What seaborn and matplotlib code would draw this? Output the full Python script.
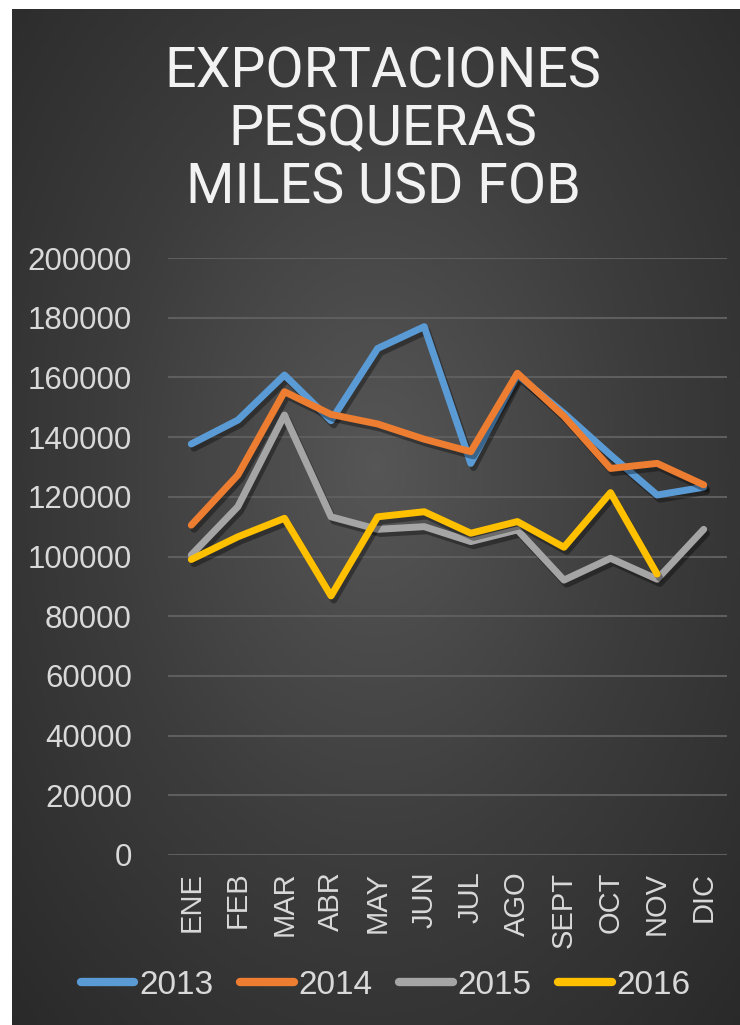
import numpy as np
import pandas as pd
import matplotlib
matplotlib.use("Agg")
import matplotlib.pyplot as plt
import matplotlib.patheffects as pe
from matplotlib.colors import LinearSegmentedColormap
import seaborn as sns

# data (miles USD FOB)
meses = ["ENE", "FEB", "MAR", "ABR", "MAY", "JUN", "JUL", "AGO", "SEPT", "OCT", "NOV", "DIC"]
v2013 = [137700, 145700, 160800, 145500, 169700, 177000, 131200, 160800, 148000, 134000, 120600, 123200]
v2014 = [110500, 127300, 155200, 147600, 144400, 139300, 135100, 161400, 147000, 129500, 131200, 124000]
v2015 = [100500, 116700, 147400, 113300, 109100, 110000, 105000, 108900, 92100, 99400, 92400, 109100]
v2016 = [99000, 106600, 112800, 86800, 113300, 115000, 107800, 111700, 103100, 121400, 94100]
anios = ["2013", "2014", "2015", "2016"]
colores = ["#5B9BD5", "#ED7D31", "#A5A5A5", "#FFC000"]

rows = []
for anio, vals in zip(anios, [v2013, v2014, v2015, v2016]):
    for mes, v in zip(meses, vals):
        rows.append({"mes": mes, "valor": v, "anio": anio})
df = pd.DataFrame(rows)
df["pos"] = df["mes"].map({m: i for i, m in enumerate(meses)})

sns.set_style("dark")
plt.rcParams["font.family"] = ["Liberation Sans", "DejaVu Sans"]

W, H = 740, 1025
fig = plt.figure(figsize=(W / 100, H / 100), dpi=100)
fig.patch.set_facecolor("white")

# dark panel with radial gradient
bg = fig.add_axes([12 / W, 0, (W - 12) / W, (H - 9) / H])
yy, xx = np.mgrid[0:1:300j, 0:1:220j]
r = np.sqrt(((xx - 0.5) / 0.75) ** 2 + ((yy - 0.45) / 0.8) ** 2)
cmap = LinearSegmentedColormap.from_list("bg", ["#565656", "#3c3c3c", "#282828"])
bg.imshow(np.clip(r, 0, 1), cmap=cmap, aspect="auto", extent=[0, 1, 0, 1], vmin=0, vmax=1)
bg.set_axis_off()

ax = fig.add_axes([168 / W, 1 - 855 / H, (727 - 168) / W, (855 - 258) / H])
ax.patch.set_alpha(0)

sns.lineplot(data=df, x="pos", y="valor", hue="anio", palette=colores, sort=False,
             linewidth=5, ax=ax, legend=False)
for line in ax.get_lines():
    line.set_solid_joinstyle("round")
    line.set_solid_capstyle("round")
    line.set_path_effects([pe.SimpleLineShadow(offset=(2, -3), shadow_color="black", alpha=0.35),
                           pe.Normal()])

ax.set_xlim(-0.5, len(meses) - 0.5)
ax.set_ylim(0, 200000)
ax.set_yticks(range(0, 200001, 20000))
ax.set_xticks(range(len(meses)))
ax.set_xticklabels(meses, rotation=90)
ax.set_xlabel("")
ax.set_ylabel("")
ax.grid(axis="y", color="#5e5e5e", linewidth=1.5)
ax.grid(axis="x", visible=False)
ax.set_axisbelow(True)
for s in ax.spines.values():
    s.set_visible(False)
ax.tick_params(axis="both", colors="#d9d9d9", labelsize=21, length=0)
ax.tick_params(axis="y", labelsize=22.5, pad=26)
ax.tick_params(axis="x", pad=12)

fig.text(383 / W, 1 - 130 / H, "EXPORTACIONES\nPESQUERAS\nMILES USD FOB",
         ha="center", va="center", color="#f2f2f2", fontsize=40, linespacing=1.12,
         family=["Roboto", "Liberation Sans", "DejaVu Sans"])

handles = [plt.Line2D([], [], color=c, linewidth=6, solid_capstyle="round") for c in colores]
fig.legend(handles, anios, loc="center", bbox_to_anchor=(386 / W, 1 - 985 / H), ncol=4,
           frameon=False, handlelength=1.6, handletextpad=0.15,
           columnspacing=0.8, labelcolor="#d9d9d9",
           prop={"family": ["Liberation Sans", "DejaVu Sans"], "size": 24})

fig.savefig("out.png", dpi=100, facecolor=fig.get_facecolor())
